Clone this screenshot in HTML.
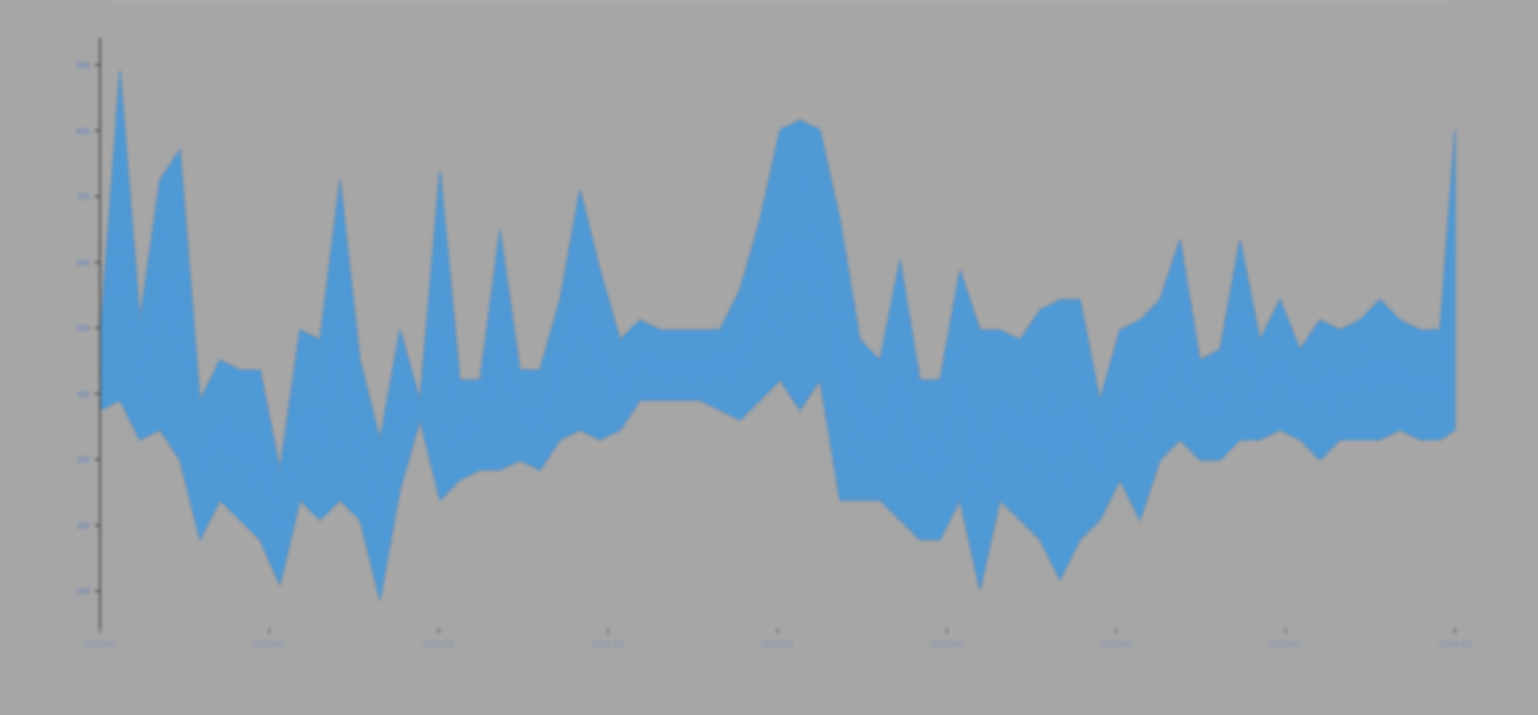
<!DOCTYPE html>
<html><head><meta charset="utf-8"><style>
html,body{margin:0;padding:0;background:#a6a6a6;width:1538px;height:715px;overflow:hidden}
svg{filter:blur(1.6px)}
</style></head><body>
<svg id="chart" width="1538" height="715" xmlns="http://www.w3.org/2000/svg" font-family="Liberation Sans, sans-serif">
<rect width="1538" height="715" fill="#a6a6a6"/>
<line x1="110" y1="1" x2="1450" y2="1" stroke="#b4b4b4" stroke-width="2"/>
<g id="plot"></g>
</svg>
<script>
const xPos = [0,20,40,60,80,100,120,140,160,180,200,220,240,260,280,300,320,340,360,380,400,420,440,460,480,500,520,540,560,580,600,620,640,660,680,700,720,740,760,780,800,820,840,860,880,900,920,940,960,980,1000,1020,1040,1060,1080,1100,1120,1140,1160,1180,1200,1220,1240,1260,1280,1300,1320,1340,1355];
const hiVals = [482,892,512,725,771,390,451,436,436,284,497,482,725,451,330,497,390,740,421,421,649,436,436,543,710,588,482,512,497,497,497,497,558,664,801,816,801,664,482,451,603,421,421,588,497,497,482,527,543,543,390,497,512,543,634,451,467,634,482,543,467,512,497,512,543,512,497,497,801];
const loVals = [375,390,330,345,299,178,238,208,178,109,238,208,238,208,86,254,360,238,269,284,284,299,284,330,345,330,345,390,390,390,390,375,360,390,421,375,421,238,238,238,208,178,178,238,102,238,208,178,117,178,208,269,208,299,330,299,299,330,330,345,330,299,330,330,330,345,330,330,345];
const yTicks = [100,200,300,400,500,600,700,800,900];
const xTickLabels = ["2010-01","2010-07","2011-01","2011-07","2012-01","2012-07","2013-01","2013-07","2014-01"];

const X0=100, Y591=591, K=0.6575, domainX=1355;
const xs = i => X0 + xPos[i]/domainX*1355;
const ys = v => Y591 - (v-100)*K;
const NS="http://www.w3.org/2000/svg";
const plot=document.getElementById('plot');
function mk(t,a){const e=document.createElementNS(NS,t);for(const k in a)e.setAttribute(k,a[k]);plot.appendChild(e);return e;}

// band
let d="M"+xs(0)+","+ys(hiVals[0]);
for(let i=1;i<xPos.length;i++) d+=" L"+xs(i)+","+ys(hiVals[i]);
for(let i=xPos.length-1;i>=0;i--) d+=" L"+xs(i)+","+ys(loVals[i]);
d+="Z";
const band=mk('path',{d:d,fill:'#4f9ad6',stroke:'#5a8fbf','stroke-width':1.5});


// zigzag
let z="";
for(let i=0;i<xPos.length-1;i++){
  const a=xs(i), b=xs(i+1);
  for(let s=0;s<6;s++){
    const t=s/6, xx=a+(b-a)*t;
    const hv=hiVals[i]+(hiVals[i+1]-hiVals[i])*t, lv=loVals[i]+(loVals[i+1]-loVals[i])*t;
    z+=(z?" L":"M")+xx+","+ys(s%2?lv+(hv-lv)*0.15:hv-(hv-lv)*0.15);
  }
}
const line=mk('path',{d:z,fill:'none',stroke:'#4a95d4','stroke-width':1.2,opacity:0.8});



// axes
const ya=mk('line',{x1:X0,y1:38,x2:X0,y2:628,stroke:'#555','stroke-width':2});


yTicks.forEach(v=>{
  const y=ys(v);
  const tk=mk('line',{x1:X0-5,y1:y,x2:X0,y2:y,stroke:'#555','stroke-width':2});
  
  
  const tx=mk('text',{x:X0-10,y:y+3,'text-anchor':'end','font-size':8,fill:'#5b7fc0'});
  tx.textContent=v;
  
  
});
xTickLabels.forEach((l,i)=>{
  const x=X0+i*1355/(xTickLabels.length-1);
  const tk=mk('line',{x1:x,y1:628,x2:x,y2:634,stroke:'#777','stroke-width':2});
  
  
  const tx=mk('text',{x:x,y:647,'text-anchor':'middle','font-size':9,fill:'#7f8fb5'});
  tx.textContent=l;
  
  
});
</script>
</body></html>
